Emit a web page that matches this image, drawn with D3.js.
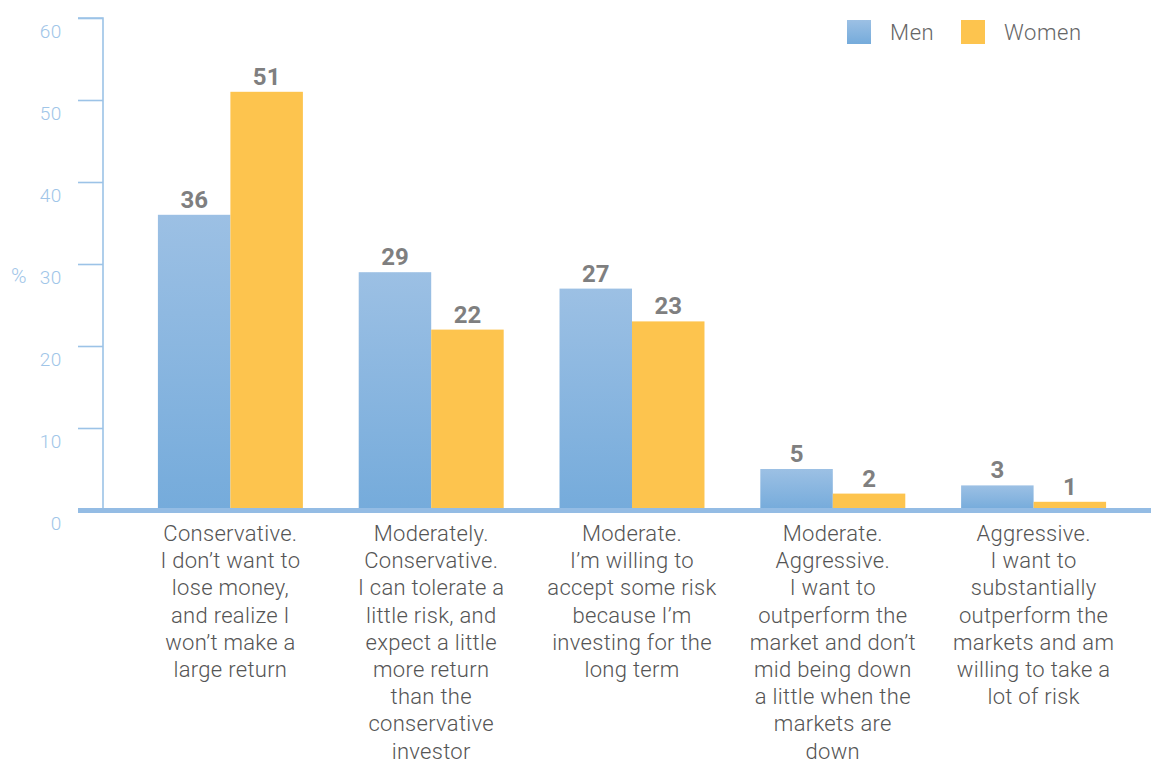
<!DOCTYPE html>
<html>
<head>
<meta charset="utf-8">
<script src="https://cdn.jsdelivr.net/npm/d3@7"></script>
<style>
  html, body { margin: 0; padding: 0; background: #fff; }
  svg { display: block; }
  .light { font-family: Roboto, "Liberation Sans", sans-serif; font-weight: 300; }
  .bold { font-family: Roboto, "Liberation Sans", sans-serif; font-weight: 700; }
</style>
</head>
<body>
<svg id="chart" width="1151" height="764"></svg>
<script>
// Risk profile categories (wrapped label lines)
const categories = [
  ["Conservative.", "I don\u2019t want to", "lose money,", "and realize I", "won\u2019t make a", "large return"],
  ["Moderately.", "Conservative.", "I can tolerate a", "little risk, and", "expect a little", "more return", "than the", "conservative", "investor"],
  ["Moderate.", "I\u2019m willing to", "accept some risk", "because I\u2019m", "investing for the", "long term"],
  ["Moderate.", "Aggressive.", "I want to", "outperform the", "market and don\u2019t", "mid being down", "a little when the", "markets are", "down"],
  ["Aggressive.", "I want to", "substantially", "outperform the", "markets and am", "willing to take a", "lot of risk"]
];
const seriesNames = ["Men", "Women"];
const menValues = [36, 29, 27, 5, 3];
const womenValues = [51, 22, 23, 2, 1];
const yTicks = [0, 10, 20, 30, 40, 50, 60];

const svg = d3.select("#chart");
const W = 1151, H = 764;

const defs = svg.append("defs");
const grad = defs.append("linearGradient")
  .attr("id", "menGrad").attr("x1", 0).attr("y1", 0).attr("x2", 0).attr("y2", 1);
grad.append("stop").attr("offset", "0%").attr("stop-color", "#9cc0e4");
grad.append("stop").attr("offset", "100%").attr("stop-color", "#75abdb");

const colors = { Men: "url(#menGrad)", Women: "#fdc44e" };

const x0 = d3.scaleBand()
  .domain(d3.range(categories.length))
  .range([130, 1134])
  .paddingInner(0.278)
  .paddingOuter(0.139);
const x1 = d3.scaleBand()
  .domain(seriesNames)
  .range([0, x0.bandwidth()]);
const y = d3.scaleLinear().domain([0, 60]).range([510, 18]);

const axisColor = "#9cc3e7";

// Y axis: vertical line, tick marks, labels offset below each tick
const yAxis = d3.axisLeft(y).tickValues(yTicks).tickSize(25).tickFormat(d => d);
const yg = svg.append("g").attr("transform", "translate(103,0)").call(yAxis);
yg.select(".domain").attr("stroke", axisColor).attr("stroke-width", 1.6)
  .attr("d", `M-25,${y(60)}H0V${y(0)}`);
yg.selectAll(".tick line").attr("stroke", axisColor).attr("stroke-width", 1.6);
yg.selectAll(".tick text")
  .attr("class", "light")
  .attr("x", -41).attr("dy", "0")
  .attr("y", 19)
  .attr("fill", "#a0c5e8")
  .attr("font-size", 19)
  .attr("letter-spacing", 0.6)
  .attr("text-anchor", "end");

svg.append("text").attr("class", "light")
  .attr("x", 11).attr("y", 283)
  .attr("font-size", 21).attr("fill", "#a0c5e8")
  .text("%");

// Bars
const data = categories.map((c, i) => ({ i, vals: [
  { key: "Men", v: menValues[i] },
  { key: "Women", v: womenValues[i] }
]}));

const groups = svg.append("g").selectAll("g").data(data).join("g")
  .attr("transform", d => `translate(${x0(d.i)},0)`);

groups.selectAll("rect").data(d => d.vals).join("rect")
  .attr("x", d => x1(d.key))
  .attr("y", d => y(d.v))
  .attr("width", x1.bandwidth())
  .attr("height", d => y(0) - y(d.v))
  .attr("fill", d => colors[d.key]);

groups.selectAll("text.val").data(d => d.vals).join("text")
  .attr("class", "val bold")
  .attr("x", d => x1(d.key) + x1.bandwidth() / 2)
  .attr("y", d => y(d.v) - 7)
  .attr("text-anchor", "middle")
  .attr("font-size", 24)
  .attr("fill", "#7f7f80")
  .text(d => d.v);

// Baseline band
svg.append("rect")
  .attr("x", 78).attr("y", y(0) - 2)
  .attr("width", W - 78).attr("height", 5)
  .attr("fill", "#94bce4");

// Category labels
const lab = svg.append("g").selectAll("text").data(categories).join("text")
  .attr("class", "light")
  .attr("text-anchor", "middle")
  .attr("font-size", 22)
  .attr("letter-spacing", 0.3)
  .attr("fill", "#555555");
lab.each(function(lines, i) {
  const cx = x0(i) + x0.bandwidth() / 2;
  d3.select(this).selectAll("tspan").data(lines).join("tspan")
    .attr("x", cx)
    .attr("y", (d, j) => 541 + j * 27.2)
    .text(d => d);
});

// Legend
const legend = svg.append("g");
const legendX = [847, 961];
seriesNames.forEach((s, i) => {
  legend.append("rect")
    .attr("x", legendX[i]).attr("y", 20)
    .attr("width", 24).attr("height", 24)
    .attr("fill", colors[s]);
  legend.append("text").attr("class", "light")
    .attr("x", legendX[i] + 43).attr("y", 40)
    .attr("font-size", 22).attr("letter-spacing", 0.6)
    .attr("fill", "#666666")
    .text(s);
});
</script>
</body>
</html>
